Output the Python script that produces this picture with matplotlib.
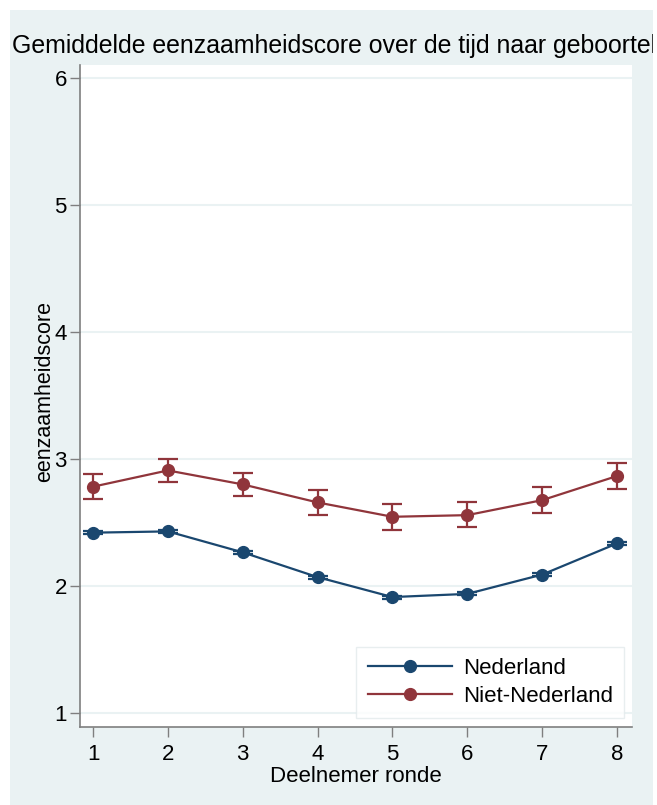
import matplotlib
matplotlib.use("Agg")
import matplotlib.pyplot as plt
from matplotlib.patches import Rectangle

plt.rcParams['font.family'] = ['Liberation Sans', 'DejaVu Sans']

rounds = [1, 2, 3, 4, 5, 6, 7, 8]
nl_mean = [2.42, 2.43, 2.265, 2.07, 1.913, 1.938, 2.09, 2.335]
nl_lo = [2.408, 2.418, 2.253, 2.058, 1.901, 1.926, 2.078, 2.323]
nl_hi = [2.432, 2.442, 2.277, 2.082, 1.925, 1.950, 2.102, 2.347]
nnl_mean = [2.782, 2.91, 2.80, 2.658, 2.545, 2.558, 2.676, 2.866]
nnl_lo = [2.684, 2.816, 2.708, 2.558, 2.439, 2.461, 2.571, 2.766]
nnl_hi = [2.882, 3.0, 2.892, 2.755, 2.642, 2.658, 2.779, 2.968]
series_names = ["Nederland", "Niet-Nederland"]
yticks = [1, 2, 3, 4, 5, 6]

W, H = 657, 805
fig = plt.figure(figsize=(W / 100, H / 100), dpi=100)
fig.patch.set_facecolor('white')
bg = '#eaf2f3'
panel = Rectangle((10 / W, 0), 643 / W, 795 / H, transform=fig.transFigure,
                  facecolor=bg, edgecolor='none', zorder=0)
fig.add_artist(panel)

ax = fig.add_axes([80 / W, 1 - 727 / H, 552 / W, 662 / H])
ax.set_facecolor('white')
ax.set_xlim(0.826, 8.2)
ax.set_ylim(0.89, 6.102)

navy = '#1a476f'
maroon = '#90353b'

def draw(mean, lo, hi, color, name):
    yerr = [[m - l for m, l in zip(mean, lo)], [h - m for m, h in zip(mean, hi)]]
    ax.errorbar(rounds, mean, yerr=yerr, fmt='none', ecolor=color,
                capsize=7.5, elinewidth=1.6, capthick=1.6, zorder=3)
    ax.plot(rounds, mean, color=color, lw=1.6, marker='o', ms=8.5, label=name, zorder=4)

draw(nl_mean, nl_lo, nl_hi, navy, series_names[0])
draw(nnl_mean, nnl_lo, nnl_hi, maroon, series_names[1])

ax.set_yticks(yticks)
ax.set_xticks(rounds)
ax.grid(axis='y', color=bg, lw=1.5, zorder=0)
ax.set_axisbelow(True)
for s in ['top', 'right']:
    ax.spines[s].set_visible(False)
for s in ['left', 'bottom']:
    ax.spines[s].set_color('#7f7f7f')
    ax.spines[s].set_linewidth(1.2)
ax.tick_params(axis='both', colors='#7f7f7f', length=7, width=1.0, labelsize=16,
               labelcolor='black')
ax.tick_params(axis='x', pad=5.5)
ax.tick_params(axis='y', pad=2.5)

fig.text(356 / W, 1 - 782 / H, "Deelnemer ronde", fontsize=16, ha='center', va='baseline')
fig.text(45 / W, 1 - 391 / H, "eenzaamheidscore", fontsize=15.5, ha='center', va='center',
         rotation=90)

title = fig.text(12 / W, 1 - 46 / H,
                 "Gemiddelde eenzaamheidscore over de tijd naar geboorteland",
                 fontsize=17.9, ha='left', va='center')
title.set_clip_path(panel)

leg = ax.legend(loc='lower right', bbox_to_anchor=(0.986, 0.0136), borderaxespad=0,
                fontsize=16, handlelength=3.8, frameon=True, fancybox=False,
                borderpad=0.5, labelspacing=0.3, handletextpad=0.5)
leg.get_frame().set_edgecolor('#e3eaec')
leg.get_frame().set_linewidth(1.0)
leg.get_frame().set_facecolor('white')

fig.savefig('out.png', dpi=100)
